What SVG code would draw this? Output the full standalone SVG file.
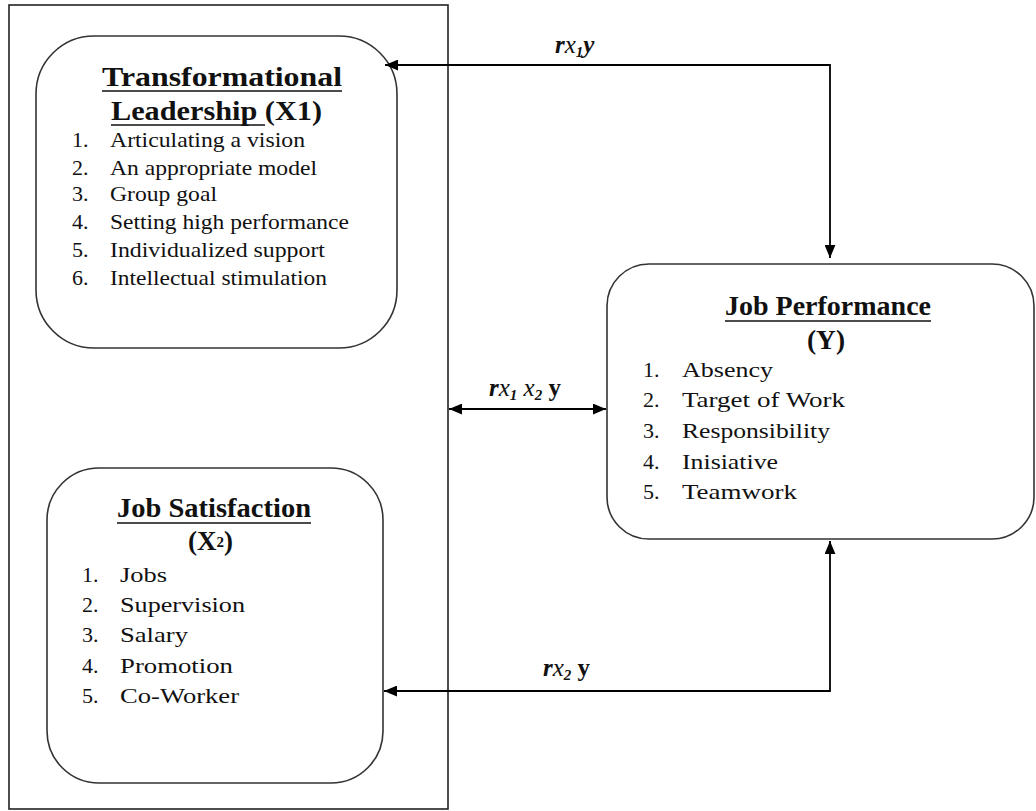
<svg xmlns="http://www.w3.org/2000/svg" width="1036" height="811" viewBox="0 0 1036 811">
  <defs>
    <marker id="arrow" viewBox="0 0 12 10" refX="12" refY="5" markerWidth="13" markerHeight="11" markerUnits="userSpaceOnUse" orient="auto-start-reverse">
      <path d="M0,0 L12,5 L0,10 Z" fill="#000"/>
    </marker>
  </defs>
  <style>
    .frame { fill: none; stroke: #222; stroke-width: 1.6; }
    .node { fill: #fff; stroke: #333; stroke-width: 1.6; }
    .title { font-family: "Liberation Serif", "Times New Roman", serif; font-weight: bold; font-size: 27px; fill: #111; }
    .item { font-family: "Liberation Serif", "Times New Roman", serif; font-size: 22px; fill: #111; }
    .ul { stroke: #111; stroke-width: 1.6; }
    .wire { fill: none; stroke: #000; stroke-width: 1.8; }
    .lbl { font-family: "Liberation Serif", "Times New Roman", serif; font-weight: bold; font-style: italic; font-size: 25px; fill: #111; }
  </style>
  <rect width="1036" height="811" fill="#fff"/>

  <!-- independent variables frame -->
  <rect id="frame" class="frame" x="9" y="5" width="439" height="804"/>

  <!-- X1 -->
  <g id="transformational-leadership">
    <rect class="node" x="36" y="36" width="361" height="312" rx="58"/>
    <text class="title" x="102" y="86" textLength="240" lengthAdjust="spacingAndGlyphs">Transformational</text>
    <line class="ul" x1="102" y1="91" x2="342" y2="91"/>
    <text class="title" x="111" y="120" textLength="211" lengthAdjust="spacingAndGlyphs">Leadership (X1)</text>
    <line class="ul" x1="111" y1="125" x2="265" y2="125"/>
    <g class="item">
      <text x="72" y="147">1.</text><text x="110" y="147" textLength="195" lengthAdjust="spacingAndGlyphs">Articulating  a vision</text>
      <text x="72" y="175">2.</text><text x="110" y="175" textLength="207" lengthAdjust="spacingAndGlyphs">An appropriate model</text>
      <text x="72" y="201">3.</text><text x="110" y="201" textLength="107" lengthAdjust="spacingAndGlyphs">Group goal</text>
      <text x="72" y="229">4.</text><text x="110" y="229" textLength="239" lengthAdjust="spacingAndGlyphs">Setting high performance</text>
      <text x="72" y="257">5.</text><text x="110" y="257" textLength="215" lengthAdjust="spacingAndGlyphs">Individualized  support</text>
      <text x="72" y="285">6.</text><text x="110" y="285" textLength="217" lengthAdjust="spacingAndGlyphs">Intellectual  stimulation</text>
    </g>
  </g>

  <!-- X2 -->
  <g id="job-satisfaction">
    <rect class="node" x="47" y="468" width="336" height="315" rx="52"/>
    <text class="title" x="117" y="517" textLength="194" lengthAdjust="spacingAndGlyphs">Job Satisfaction</text>
    <line class="ul" x1="117" y1="523" x2="311" y2="523"/>
    <text class="title" x="188" y="550">(X<tspan font-size="15" dy="-3">2</tspan><tspan dy="3">)</tspan></text>
    <g class="item">
      <text x="82" y="582">1.</text><text x="120" y="582" textLength="47" lengthAdjust="spacingAndGlyphs">Jobs</text>
      <text x="82" y="612">2.</text><text x="120" y="612" textLength="125" lengthAdjust="spacingAndGlyphs">Supervision</text>
      <text x="82" y="642">3.</text><text x="120" y="642" textLength="68" lengthAdjust="spacingAndGlyphs">Salary</text>
      <text x="82" y="673">4.</text><text x="120" y="673" textLength="113" lengthAdjust="spacingAndGlyphs">Promotion</text>
      <text x="82" y="703">5.</text><text x="120" y="703" textLength="119" lengthAdjust="spacingAndGlyphs">Co-Worker</text>
    </g>
  </g>

  <!-- Y -->
  <g id="job-performance">
    <rect class="node" x="607" y="264" width="427" height="275" rx="42"/>
    <text class="title" x="725" y="315" textLength="206" lengthAdjust="spacingAndGlyphs">Job Performance</text>
    <line class="ul" x1="725" y1="321" x2="931" y2="321"/>
    <text class="title" x="807" y="349" textLength="38" lengthAdjust="spacingAndGlyphs">(Y)</text>
    <g class="item">
      <text x="643" y="377">1.</text><text x="682" y="377" textLength="91" lengthAdjust="spacingAndGlyphs">Absency</text>
      <text x="643" y="407">2.</text><text x="682" y="407" textLength="163" lengthAdjust="spacingAndGlyphs">Target of Work</text>
      <text x="643" y="438">3.</text><text x="682" y="438" textLength="148" lengthAdjust="spacingAndGlyphs">Responsibility</text>
      <text x="643" y="469">4.</text><text x="682" y="469" textLength="96" lengthAdjust="spacingAndGlyphs">Inisiative</text>
      <text x="643" y="499">5.</text><text x="682" y="499" textLength="115" lengthAdjust="spacingAndGlyphs">Teamwork</text>
    </g>
  </g>

  <!-- connectors -->
  <g id="connectors">
    <path class="wire" d="M385,65 H830 V258" marker-start="url(#arrow)" marker-end="url(#arrow)"/>
    <path class="wire" d="M449,409 H606" marker-start="url(#arrow)" marker-end="url(#arrow)"/>
    <path class="wire" d="M384,691 H830 V541" marker-start="url(#arrow)" marker-end="url(#arrow)"/>
    <text class="lbl" x="555" y="53">r<tspan font-weight="normal">x</tspan><tspan font-size="15" dy="4">1</tspan><tspan dy="-4">y</tspan></text>
    <text class="lbl" x="489" y="396">r<tspan font-weight="normal">x</tspan><tspan font-size="15" dy="4">1</tspan><tspan dy="-4" font-weight="normal"> x</tspan><tspan font-size="15" dy="4">2</tspan><tspan dy="-4" font-style="normal"> y</tspan></text>
    <text class="lbl" x="543" y="676">r<tspan font-weight="normal">x</tspan><tspan font-size="15" dy="4">2</tspan><tspan dy="-4" font-style="normal"> y</tspan></text>
  </g>
</svg>
